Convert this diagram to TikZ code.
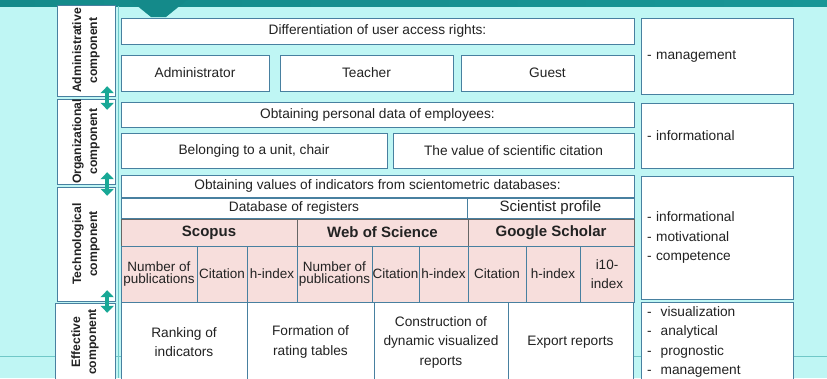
\documentclass[tikz,border=0pt]{standalone}
\usepackage{fontspec}
\setmainfont{Liberation Sans}
\usepackage{graphicx}
\usetikzlibrary{arrows.meta}
\definecolor{bg}{RGB}{191,246,244}
\definecolor{edge}{RGB}{72,128,160}
\definecolor{pinkc}{RGB}{247,222,220}
\definecolor{arrowc}{RGB}{24,168,150}
\definecolor{topa}{RGB}{20,138,138}
\definecolor{topb}{RGB}{24,150,150}
\definecolor{topc}{RGB}{96,192,190}
\definecolor{strip}{RGB}{112,200,200}
\definecolor{ink}{RGB}{34,34,34}

\begin{document}
\begin{tikzpicture}[x=1pt, y=-1pt,
  every node/.style = {text=ink},
  box/.style = {draw=edge, fill=white, inner sep=1pt, align=center, font=\fontsize{13.7}{19.5}\selectfont},
  side/.style = {draw=edge, fill=white, inner sep=0pt, font=\bfseries\fontsize{12.2}{16}\selectfont},
  head/.style = {draw=black!60, fill=pinkc, inner sep=0pt, font=\bfseries\fontsize{15}{18}\selectfont},
  cell/.style = {draw=edge, fill=pinkc, inner sep=0pt, align=center, font=\fontsize{13.5}{19}\selectfont},
  func/.style = {draw=edge, fill=white, inner xsep=6pt, inner ysep=1pt, text width=140pt, align=left, font=\fontsize{13.7}{19.5}\selectfont},
  updown/.style = {{Triangle[width=13pt,length=7pt]}-{Triangle[width=13pt,length=7pt]}, line width=4.5pt, draw=arrowc}]
    \useasboundingbox (0,0) rectangle (827,378);
    \fill[bg] (0,0) rectangle (827,378);
    \shade[left color=topa, middle color=topc, right color=topb] (0,0) rectangle (827,6);
    \fill[topa] (130,0) -- (187,0) -- (166,17) -- (151,17) -- cycle;
    \draw[strip] (0,356) -- (827,356);
    \draw[strip] (118,6) -- (118,378);

    % components
    \node[side, minimum width=58pt, minimum height=91pt] (adm) at (86,50.5) {\rotatebox{90}{\begin{tabular}{@{}c@{}}Administrative\\component\end{tabular}}};
    \node[side, minimum width=58pt, minimum height=85pt] (org) at (86,141.5) {\rotatebox{90}{\begin{tabular}{@{}c@{}}Organizational\\component\end{tabular}}};
    \node[side, minimum width=58pt, minimum height=114pt] (tech) at (86,244) {\rotatebox{90}{\begin{tabular}{@{}c@{}}Technological\\component\end{tabular}}};
    \node[side, minimum width=60pt, minimum height=78pt] (eff) at (85,342) {\rotatebox{90}{\begin{tabular}{@{}c@{}}Effective\\component\end{tabular}}};

    % administrative
    \node[box, minimum width=513pt, minimum height=26pt] (rights) at (377.5,31) {Differentiation of user access rights:};
    \node[box, minimum width=148pt, minimum height=36pt] (admin) at (195,73) {Administrator};
    \node[box, minimum width=173pt, minimum height=36pt] (teacher) at (366.5,73) {Teacher};
    \node[box, minimum width=173pt, minimum height=36pt] (guest) at (547.5,73) {Guest};

    % organizational
    \node[box, minimum width=513pt, minimum height=25pt] (personal) at (377.5,114.5) {Obtaining personal data of employees:};
    \node[box, minimum width=266pt, minimum height=35pt] (unit) at (254,150.5) {Belonging to a unit, chair};
    \node[box, minimum width=241pt, minimum height=35pt] (citval) at (513.5,150.5) {The value of scientific citation};

    % technological
    \node[box, minimum width=513pt, minimum height=22pt] (values) at (377.5,186) {Obtaining values of indicators from scientometric databases:};
    \node[box, minimum width=346pt, minimum height=20pt] (registers) at (294,208) {Database of registers};
    \node[box, minimum width=167pt, minimum height=20pt, font=\fontsize{15}{18}\selectfont] (profile) at (550.5,208) {Scientist profile};
    \node[head, minimum width=176pt, minimum height=27pt] (scopus) at (209,232.5) {Scopus};
    \node[head, minimum width=171pt, minimum height=27pt] (wos) at (382.5,232.5) {Web of Science};
    \node[head, minimum width=166pt, minimum height=27pt] (gs) at (551,232.5) {Google Scholar};
    \node[cell, minimum width=76pt, minimum height=56pt, font=\fontsize{13.5}{12}\selectfont] (s1) at (159,274) {Number of\\publications};
    \node[cell, minimum width=50pt, minimum height=56pt] (s2) at (222,274) {Citation};
    \node[cell, minimum width=50pt, minimum height=56pt] (s3) at (272,274) {h-index};
    \node[cell, minimum width=75pt, minimum height=56pt, font=\fontsize{13.5}{12}\selectfont] (w1) at (334.5,274) {Number of\\publications};
    \node[cell, minimum width=47pt, minimum height=56pt] (w2) at (395.5,274) {Citation};
    \node[cell, minimum width=49pt, minimum height=56pt] (w3) at (443.5,274) {h-index};
    \node[cell, minimum width=58pt, minimum height=56pt] (g1) at (497,274) {Citation};
    \node[cell, minimum width=54pt, minimum height=56pt] (g2) at (553,274) {h-index};
    \node[cell, minimum width=54pt, minimum height=56pt] (g3) at (607,274) {i10-\\index};

    % effective
    \node[box, minimum width=126pt, minimum height=80pt] (ranking) at (184,342) {Ranking of\\indicators};
    \node[box, minimum width=127pt, minimum height=80pt] (tables) at (310.5,342) {Formation of\\rating tables};
    \node[box, minimum width=134pt, minimum height=80pt] (dynamic) at (441,342) {Construction of\\dynamic visualized\\reports};
    \node[box, minimum width=125pt, minimum height=80pt] (export) at (570.5,342) {Export reports};

    % functions
    \node[func, minimum height=76pt] (f1) at (717,56) {- management};
    \node[func, minimum height=65pt] (f2) at (717,135.5) {- informational};
    \node[func, minimum height=123pt] (f3) at (717,237.5) {- informational\\- motivational\\- competence};
    \node[func, minimum height=80pt] (f4) at (717,342) {-\ \ visualization\\-\ \ analytical\\-\ \ prognostic\\-\ \ management};

    \draw[updown] ([xshift=-8pt, yshift=10pt]adm.south east) -- ([xshift=-8pt, yshift=-11pt]org.north east);
    \draw[updown] ([xshift=-8pt, yshift=12pt]org.south east) -- ([xshift=-8pt, yshift=-9pt]tech.north east);
    \draw[updown] ([xshift=-8pt, yshift=11pt]tech.south east) -- ([xshift=-8pt, yshift=-10pt]eff.north east);
\end{tikzpicture}
\end{document}
